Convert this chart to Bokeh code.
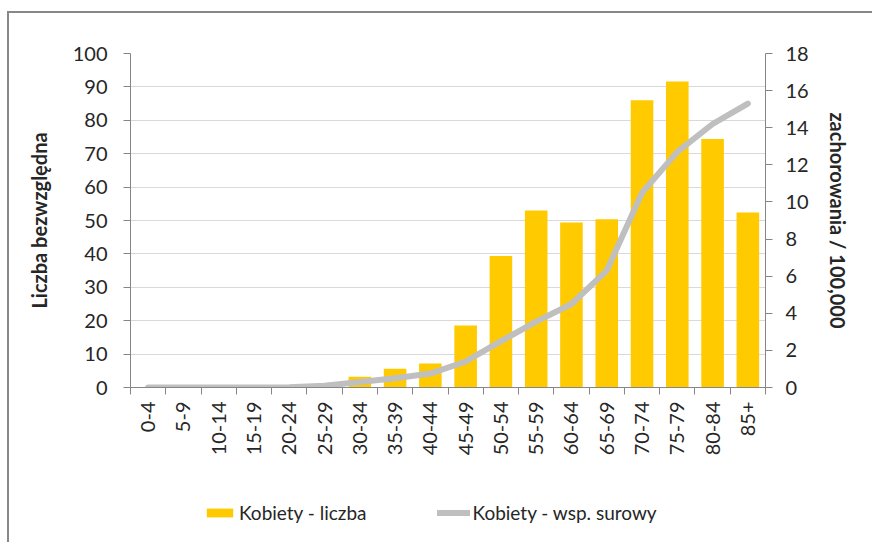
import math
from bokeh.plotting import figure
from bokeh.layouts import column
from bokeh.models import (Range1d, LinearAxis, FixedTicker, Legend, LegendItem, ColumnDataSource)
from bokeh.embed import file_html
from bokeh.resources import INLINE

categories = ["0-4", "5-9", "10-14", "15-19", "20-24", "25-29", "30-34", "35-39", "40-44",
              "45-49", "50-54", "55-59", "60-64", "65-69", "70-74", "75-79", "80-84", "85+"]
counts = [0, 0, 0, 0, 0, 0, 3.2, 5.6, 7.2, 18.6, 39.4, 53.0, 49.4, 50.4, 86.0, 91.6, 74.4, 52.4]
rates = [0, 0, 0, 0, 0.02, 0.1, 0.3, 0.5, 0.75, 1.4, 2.5, 3.55, 4.5, 6.3, 10.5, 12.7, 14.2, 15.3]
left_ticks = list(range(0, 101, 10))
right_ticks = list(range(0, 19, 2))
series_names = ["Kobiety - liczba", "Kobiety - wsp. surowy"]

FONT = "Lato"
TXT = "#262626"
AX = "#868686"
BAR = "#FFCA00"
LINE = "#bfbfbf"

idx = list(range(len(categories)))
src = ColumnDataSource(dict(x=idx, cat=categories, counts=counts,
                            rates_scaled=[r * 100 / 18 for r in rates]))

p = figure(frame_width=635, frame_height=334, output_backend="svg", toolbar_location=None,
           x_range=Range1d(-0.5, len(categories) - 0.5), y_range=Range1d(0, 100),
           min_border_left=121, min_border_right=107, min_border_top=40, min_border_bottom=80)
p.outline_line_color = None
p.xgrid.grid_line_color = None
p.ygrid.grid_line_color = "#d9d9d9"
p.ygrid.grid_line_width = 1
p.ygrid.ticker = FixedTicker(ticks=left_ticks)

p.extra_y_ranges = {"rate": Range1d(0, 18)}

p.vbar(x="x", top="counts", width=0.64, source=src, fill_color=BAR, line_color=None)
p.line(x="x", y="rates_scaled", source=src, line_color=LINE, line_width=6,
       line_cap="round", line_join="round")

# x axis
xa = p.xaxis[0]
xa.ticker = FixedTicker(ticks=idx, minor_ticks=[i - 0.5 for i in range(len(categories) + 1)])
xa.major_label_overrides = {i: c for i, c in zip(idx, categories)}
xa.major_label_orientation = math.pi / 2
xa.major_tick_line_color = None
xa.minor_tick_out = 7
xa.minor_tick_in = 0
xa.minor_tick_line_color = AX
xa.axis_line_color = AX
xa.major_label_text_font = FONT
xa.major_label_text_font_size = "20px"
xa.major_label_text_color = TXT
xa.major_label_standoff = 7

# left axis
ya = p.yaxis[0]
ya.ticker = FixedTicker(ticks=left_ticks)
ya.axis_label = "Liczba bezwzględna"
ya.axis_label_text_font = FONT
ya.axis_label_text_font_style = "bold"
ya.axis_label_text_font_size = "20px"
ya.axis_label_text_color = TXT
ya.axis_label_standoff = 19
ya.major_label_text_font = FONT
ya.major_label_text_font_size = "20px"
ya.major_label_text_color = TXT
ya.major_label_standoff = 16
ya.major_tick_out = 7
ya.major_tick_in = 0
ya.minor_tick_line_color = None
ya.major_tick_line_color = AX
ya.axis_line_color = AX

# right axis
ra = LinearAxis(y_range_name="rate", ticker=FixedTicker(ticks=right_ticks))
ra.axis_label = "zachorowania / 100,000"
ra.axis_label_text_font = FONT
ra.axis_label_text_font_style = "bold"
ra.axis_label_text_font_size = "20px"
ra.axis_label_text_color = TXT
ra.axis_label_standoff = 14
ra.major_label_text_font = FONT
ra.major_label_text_font_size = "20px"
ra.major_label_text_color = TXT
ra.major_label_standoff = 13
ra.major_tick_out = 7
ra.major_tick_in = 0
ra.minor_tick_line_color = None
ra.major_tick_line_color = AX
ra.axis_line_color = AX
p.add_layout(ra, "right")

# legend figure (separate strip below the chart)
lg = figure(width=863, height=75, output_backend="svg", toolbar_location=None,
            x_axis_type=None, y_axis_type=None, min_border=0,
            x_range=Range1d(-0.5, len(categories) - 0.5), y_range=Range1d(0, 100))
lg.outline_line_color = None
lg.grid.grid_line_color = None
lb = lg.vbar(x="x", top="counts", width=0.64, source=src, fill_color=BAR, line_color=None,
             visible=False)
ll = lg.line(x="x", y="rates_scaled", source=src, line_color=LINE, line_width=6,
             line_cap="round", visible=False)
legend = Legend(items=[LegendItem(label=series_names[0], renderers=[lb]),
                       LegendItem(label=series_names[1], renderers=[ll])],
                orientation="horizontal", location=(73, 18),
                label_text_font=FONT, label_text_font_size="19px", label_text_color=TXT,
                glyph_width=33, glyph_height=11, label_standoff=3, spacing=70,
                label_height=18, inactive_fill_alpha=0,
                border_line_color=None, background_fill_alpha=0, margin=0, padding=0)
lg.add_layout(legend, "center")

layout = column(p, lg, spacing=0)
layout.styles = {"margin-left": "7px", "margin-top": "11px",
                 "border-left": "2px solid #888888", "border-top": "2px solid #888888"}

open("out.html", "w").write(file_html(layout, INLINE))
